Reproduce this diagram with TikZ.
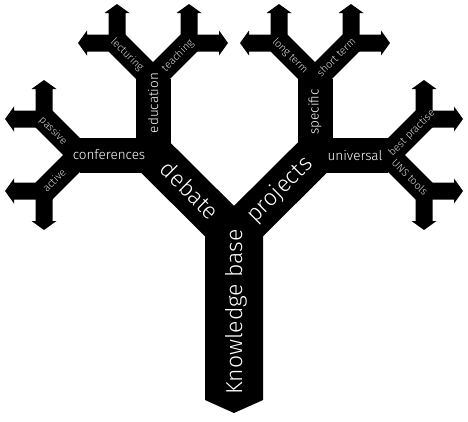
\documentclass[tikz,border=0pt]{standalone}
\usepackage{fontspec}
\setmainfont{Fira Sans}[UprightFont=* Light]
\usetikzlibrary{calc}
\begin{document}
\begin{tikzpicture}[x=1pt,y=-1pt,
  trunkw/.style={line width=42pt,line cap=butt},
  barw/.style={line width=35pt,line cap=butt},
  twigw/.style={line width=24pt,line cap=butt},
  leaf/.pic={\fill (-8.5,-8.5) -- (30,-8.5) -- (30,-12.5) -- (39,0) -- (30,12.5) -- (30,8.5) -- (-8.5,8.5) -- cycle;},
  big/.style={text=white,inner sep=0pt,font=\fontsize{23}{23}\selectfont},
  mid/.style={text=white,inner sep=0pt,font=\fontsize{13.5}{13.5}\selectfont},
  small/.style={text=black!12,inner sep=0pt,font=\fontsize{10.5}{10.5}\selectfont}]
\useasboundingbox (0,0) rectangle (468,421);
% junctions
\coordinate (J0) at (234,235.5);
\coordinate (L1) at (153,155);
\coordinate (R1) at (315,155);
\coordinate (L2a) at (80,155);
\coordinate (L2b) at (153,79);
\coordinate (R2a) at (388,155);
\coordinate (R2b) at (315,79);
% leaf corners
\coordinate (cL1) at (44,119);
\coordinate (cL2) at (44,191);
\coordinate (cE1) at (117,43);
\coordinate (cE2) at (189,43);
\coordinate (cS1) at (279,43);
\coordinate (cS2) at (351,43);
\coordinate (cU1) at (424,119);
\coordinate (cU2) at (424,191);
% trunk
\fill (205,235.5) -- (205,400) -- (234,413) -- (263,400) -- (263,235.5) -- cycle;
% level one
\draw[trunkw] (J0) -- (L1);
\draw[trunkw] (J0) -- (R1);
% level two
\draw[barw] ($(L1)+(17.5,0)$) -- (L2a);
\draw[barw] ($(L1)+(0,17.5)$) -- (L2b);
\draw[barw] ($(R1)+(-17.5,0)$) -- (R2a);
\draw[barw] ($(R1)+(0,17.5)$) -- (R2b);
% level three
\draw[twigw] (L2a) -- (cL1);
\draw[twigw] (L2a) -- (cL2);
\draw[twigw] (L2b) -- (cE1);
\draw[twigw] (L2b) -- (cE2);
\draw[twigw] (R2b) -- (cS1);
\draw[twigw] (R2b) -- (cS2);
\draw[twigw] (R2a) -- (cU1);
\draw[twigw] (R2a) -- (cU2);
% arrows
\pic[rotate=90] at (cL1) {leaf};
\pic[rotate=180] at (cL1) {leaf};
\pic[rotate=-90] at (cL2) {leaf};
\pic[rotate=180] at (cL2) {leaf};
\pic[rotate=90] at (cE1) {leaf};
\pic[rotate=180] at (cE1) {leaf};
\pic[rotate=90] at (cE2) {leaf};
\pic[rotate=0] at (cE2) {leaf};
\pic[rotate=90] at (cS1) {leaf};
\pic[rotate=180] at (cS1) {leaf};
\pic[rotate=90] at (cS2) {leaf};
\pic[rotate=0] at (cS2) {leaf};
\pic[rotate=90] at (cU1) {leaf};
\pic[rotate=0] at (cU1) {leaf};
\pic[rotate=-90] at (cU2) {leaf};
\pic[rotate=0] at (cU2) {leaf};
% labels
\node[big,rotate=90] (kb) at (236,312) {Knowledge base};
\node[big,rotate=-45] (deb) at (190,190) {debate};
\node[big,rotate=45] (proj) at (280,190) {projects};
\node[mid] (conf) at (109,155) {conferences};
\node[mid] (univ) at (355,155) {universal};
\node[mid,rotate=90] (edu) at (153,103) {education};
\node[mid,rotate=90] (spec) at (315,112) {specific};
\node[small,rotate=-45] (lect) at (127,55) {lecturing};
\node[small,rotate=45] (teach) at (178,56) {teaching};
\node[small,rotate=-45] (lt) at (290,56) {long term};
\node[small,rotate=45] (st) at (336,57) {short term};
\node[small,rotate=-45] (pas) at (53,131) {passive};
\node[small,rotate=45] (act) at (54,180) {active};
\node[small,rotate=45] (bp) at (412,133) {best practise};
\node[small,rotate=-45] (uns) at (410,177) {UNS tools};
\end{tikzpicture}
\end{document}
